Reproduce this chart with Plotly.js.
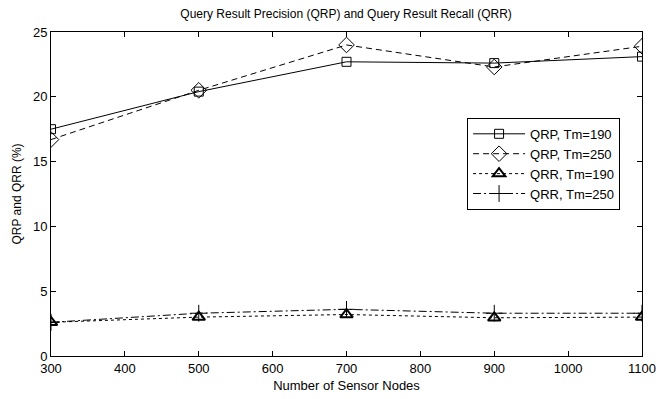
<!DOCTYPE html>
<html>
<head>
<meta charset="utf-8">
<script src="https://cdn.plot.ly/plotly-3.0.1.min.js"></script>
<style>html,body{margin:0;padding:0;background:#fff;}#chart{width:672px;height:399px;}</style>
</head>
<body>
<div id="chart"></div>
<script>
const nodes = [300, 500, 700, 900, 1100];
const qrp190 = [17.5, 20.4, 22.7, 22.6, 23.1];
const qrp250 = [16.7, 20.5, 24.0, 22.3, 23.9];
const qrr190 = [2.6, 3.0, 3.2, 2.95, 3.0];
const qrr250 = [2.6, 3.3, 3.6, 3.3, 3.3];
const seriesNames = ['QRP, Tm=190', 'QRP, Tm=250', 'QRR, Tm=190', 'QRR, Tm=250'];
const xTicks = [300, 400, 500, 600, 700, 800, 900, 1000, 1100];
const yTicks = [0, 5, 10, 15, 20, 25];

const traces = [
  {x: nodes, y: qrp190, name: seriesNames[0], mode: 'lines+markers',
   line: {color: '#000', width: 1, dash: 'solid'},
   marker: {symbol: 'square-open', size: 9, color: '#000', line: {width: 1}}},
  {x: nodes, y: qrp250, name: seriesNames[1], mode: 'lines+markers',
   line: {color: '#000', width: 1, dash: '6px,4px'},
   marker: {symbol: 'diamond-open', size: 12, color: '#000', line: {width: 1}}},
  {x: nodes, y: qrr190, name: seriesNames[2], mode: 'lines+markers',
   line: {color: '#000', width: 1, dash: 'dot'},
   marker: {symbol: 'triangle-up-open', size: 11, color: '#000', line: {width: 2}}},
  {x: nodes, y: qrr250, name: seriesNames[3], mode: 'lines+markers',
   line: {color: '#000', width: 1, dash: '8px,3px,2px,3px'},
   marker: {symbol: 'cross-thin-open', size: 12, color: '#000', line: {width: 1}}}
];

const fontFam = 'Liberation Sans, Arial, sans-serif';
const layout = {
  width: 672, height: 399,
  margin: {l: 51, r: 30, t: 32, b: 43},
  paper_bgcolor: '#fff', plot_bgcolor: '#fff',
  font: {family: fontFam, size: 13, color: '#000'},
  title: {text: 'Query Result Precision (QRP) and Query Result Recall (QRR)',
          font: {family: fontFam, size: 12, color: '#000'}, x: 0.515, xanchor: 'center', y: 0.965, yanchor: 'middle'},
  xaxis: {range: [300, 1100], tickvals: xTicks, ticktext: xTicks.map(String),
          ticks: 'inside', ticklen: 5, tickcolor: '#000', mirror: 'ticks',
          showline: true, linecolor: '#000', linewidth: 1, showgrid: false, zeroline: false,
          tickfont: {family: fontFam, size: 13, color: '#000'},
          title: {text: 'Number of Sensor Nodes', standoff: 6, font: {family: fontFam, size: 13, color: '#000'}}},
  yaxis: {range: [0, 25], tickvals: yTicks, ticktext: yTicks.map(String),
          ticks: 'inside', ticklen: 5, tickcolor: '#000', mirror: 'ticks',
          showline: true, linecolor: '#000', linewidth: 1, showgrid: false, zeroline: false,
          tickfont: {family: fontFam, size: 13, color: '#000'},
          title: {text: 'QRP and QRR (%)', standoff: 8, font: {family: fontFam, size: 12, color: '#000'}}},
  legend: {x: 0.704, y: 0.735, xanchor: 'left', yanchor: 'top',
           bgcolor: '#fff', bordercolor: '#000', borderwidth: 1,
           font: {family: fontFam, size: 13, color: '#000'}, tracegroupgap: 0, itemwidth: 52},
  showlegend: true
};

Plotly.newPlot('chart', traces, layout, {displayModeBar: false, staticPlot: true});
</script>
</body>
</html>
